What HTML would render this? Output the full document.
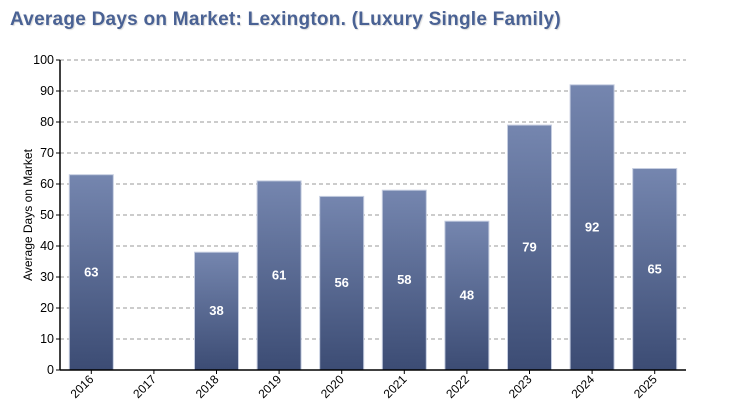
<!DOCTYPE html>
<html><head><meta charset="utf-8"><style>
body{margin:0;background:#fff;width:730px;height:420px;overflow:hidden;font-family:"Liberation Sans",sans-serif}
.title{position:absolute;left:10px;top:9px;font-size:19px;font-weight:bold;color:#4a6294;letter-spacing:0.25px;text-shadow:1px 1px 1px rgba(0,0,0,0.15)}
</style></head><body>
<div class="title">Average Days on Market: Lexington. (Luxury Single Family)</div>
<svg id="chart" width="730" height="420" style="position:absolute;left:0;top:0">
<defs><linearGradient id="g" x1="0" y1="0" x2="0" y2="1"><stop offset="0" stop-color="#7586af"/><stop offset="1" stop-color="#3c4c74"/></linearGradient></defs>
</svg>
<script>
const categories=["2016","2017","2018","2019","2020","2021","2022","2023","2024","2025"];
const values=[63,null,38,61,56,58,48,79,92,65];
const yTicks=[0,10,20,30,40,50,60,70,80,90,100];
const svg=document.getElementById('chart');
const NS='http://www.w3.org/2000/svg';
const L=60,R=686,T=60,B=370;
const y=v=>B-(v/100)*(B-T);
const band=(R-L)/categories.length;
const xc=i=>L+band*(i+0.5);
function mk(t,a){const e=document.createElementNS(NS,t);for(const k in a)e.setAttribute(k,a[k]);svg.appendChild(e);return e;}
yTicks.forEach(v=>{
  if(v>0){const g=mk('line',{x1:L,x2:R,y1:y(v),y2:y(v),stroke:'#999','stroke-dasharray':'4,3'});
  
  }
  mk('line',{x1:L-4,x2:L,y1:y(v),y2:y(v),stroke:'#000'});
  const t=mk('text',{x:L-6,y:y(v)+4,'text-anchor':'end','font-size':12.5,fill:'#000'});t.textContent=v;
  
  
});
categories.forEach((c,i)=>{
  const v=values[i];
  if(v!=null){
    const r=mk('rect',{x:xc(i)-22,y:y(v),width:44,height:B-y(v),fill:'url(#g)',stroke:'#c5cde0','stroke-width':1});
    
    
    const t=mk('text',{x:xc(i),y:(y(v)+B)/2+4,'text-anchor':'middle','font-size':13,'font-weight':'bold',fill:'#fff'});t.textContent=v;
    
    
  }
  mk('line',{x1:xc(i),x2:xc(i),y1:B,y2:B+4,stroke:'#000'});
  const t=mk('text',{x:xc(i)+3,y:B+10,'text-anchor':'end','font-size':12,fill:'#000',transform:`rotate(-45 ${xc(i)+3} ${B+10})`});t.textContent=c;
  
  
});
mk('line',{x1:L,x2:L,y1:T,y2:B,stroke:'#000','stroke-width':1.5});
mk('line',{x1:L,x2:R,y1:B,y2:B,stroke:'#000','stroke-width':1.5});
const yt=mk('text',{x:32,y:215,'text-anchor':'middle','font-size':12,fill:'#000',transform:'rotate(-90 32 215)'});yt.textContent='Average Days on Market';


</script>
</body></html>
